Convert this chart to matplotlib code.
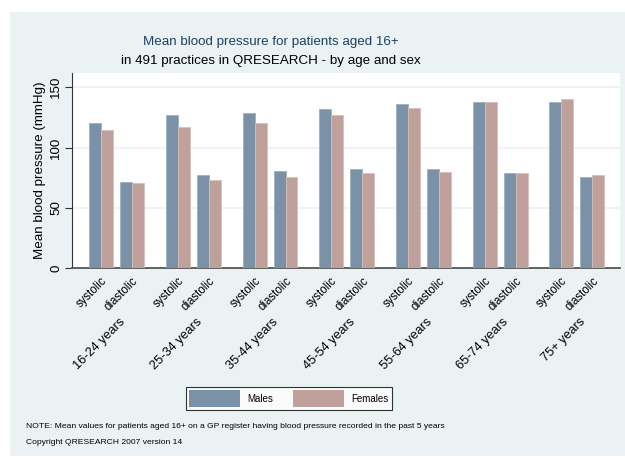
import numpy as np
import matplotlib
matplotlib.use("Agg")
import matplotlib.pyplot as plt
from matplotlib.patches import Rectangle, Patch

plt.rcParams['font.family'] = ['Liberation Sans', 'DejaVu Sans']

# data
age_groups = ["16-24 years", "25-34 years", "35-44 years", "45-54 years",
              "55-64 years", "65-74 years", "75+ years"]
measures = ["systolic", "diastolic"]
males_systolic = [120.1, 126.8, 128.7, 131.7, 136.1, 137.6, 137.8]
females_systolic = [114.6, 116.8, 120.1, 127.0, 133.0, 137.6, 140.5]
males_diastolic = [71.2, 76.9, 80.3, 81.9, 81.9, 78.6, 75.8]
females_diastolic = [70.8, 73.3, 75.8, 78.6, 79.7, 78.6, 77.2]

MALE_COL = "#7A91A8"
FEMALE_COL = "#BFA09A"
PANEL_COL = "#EAF2F3"

fig = plt.figure(figsize=(6.25, 4.59), dpi=100)
fig.patch.set_facecolor("white")
# light panel behind everything
fig.patches.append(Rectangle((10 / 625, 1 - 456 / 459), 615 / 625, 444 / 459,
                             transform=fig.transFigure, facecolor=PANEL_COL,
                             edgecolor="none", zorder=-10))

ax = fig.add_axes([72 / 625, 1 - 268.3 / 459, 548 / 625, 195.3 / 459])
ax.set_facecolor("white")

groups = np.arange(len(age_groups))
inner = 0.404 / 2
width = 0.156
sys_c = groups - inner
dia_c = groups + inner

kw = dict(width=width, align="edge", linewidth=0.6, zorder=3)
ax.bar(sys_c - width, males_systolic, color=MALE_COL, edgecolor="#9DB0C2", **kw)
ax.bar(sys_c, females_systolic, color=FEMALE_COL, edgecolor="#D6BFBA", **kw)
ax.bar(dia_c - width, males_diastolic, color=MALE_COL, edgecolor="#9DB0C2", **kw)
ax.bar(dia_c, females_diastolic, color=FEMALE_COL, edgecolor="#D6BFBA", **kw)

ax.set_xlim(-0.582, 6.563)
ax.set_ylim(0, 161.8)
ax.set_yticks([0, 50, 100, 150])
ax.set_yticklabels(["0", "50", "100", "150"], rotation=90, va="center", fontsize=9.6)
ax.yaxis.grid(True, color=PANEL_COL, linewidth=1.2, zorder=0)
ax.set_axisbelow(True)
ax.tick_params(axis="y", length=5, width=0.8, color="#333333", pad=2)

ticks = np.sort(np.concatenate([sys_c, dia_c]))
ax.set_xticks(ticks)
ax.set_xticklabels(measures * len(age_groups), rotation=45, ha="right",
                   rotation_mode="anchor", fontsize=8.3)
ax.tick_params(axis="x", length=0, pad=5)

for g, name in zip(groups, age_groups):
    ax.text(g + 0.03, -0.245, name, transform=ax.get_xaxis_transform(),
            rotation=45, ha="right", va="top", rotation_mode="anchor", fontsize=9.2)

for s in ["top", "right"]:
    ax.spines[s].set_visible(False)
ax.spines["left"].set_color("#333333")
ax.spines["bottom"].set_color("#555555")
ax.spines["bottom"].set_linewidth(1.3)

ax.set_ylabel("Mean blood pressure (mmHg)", fontsize=9.6, labelpad=3)

title_x = 271 / 625
fig.text(title_x, 1 - 42 / 459, "Mean blood pressure for patients aged 16+",
         ha="center", va="center", fontsize=9.6, color="#1F3F66")
fig.text(title_x, 1 - 61 / 459, "in 491 practices in QRESEARCH - by age and sex",
         ha="center", va="center", fontsize=9.6, color="black")

handles = [Patch(facecolor=MALE_COL, edgecolor="none", label="Males"),
           Patch(facecolor=FEMALE_COL, edgecolor="none", label="Females")]
leg = fig.legend(handles=handles, loc="center", ncol=2,
                 bbox_to_anchor=(289 / 625, 1 - 398.5 / 459), fontsize=7,
                 frameon=True, fancybox=False, edgecolor="black",
                 handlelength=5.2, handleheight=2.2, handletextpad=0.8,
                 columnspacing=2.0, borderpad=0.35, borderaxespad=0)
leg.get_frame().set_linewidth(0.8)

fig.text(26 / 625, 1 - 427 / 459,
         "NOTE: Mean values for patients aged 16+ on a GP register having blood pressure recorded in the past 5 years",
         ha="left", va="center", fontsize=6.1)
fig.text(26 / 625, 1 - 443 / 459, "Copyright QRESEARCH 2007 version 14",
         ha="left", va="center", fontsize=6.1)

fig.savefig("out.png", dpi=100, facecolor="white")
